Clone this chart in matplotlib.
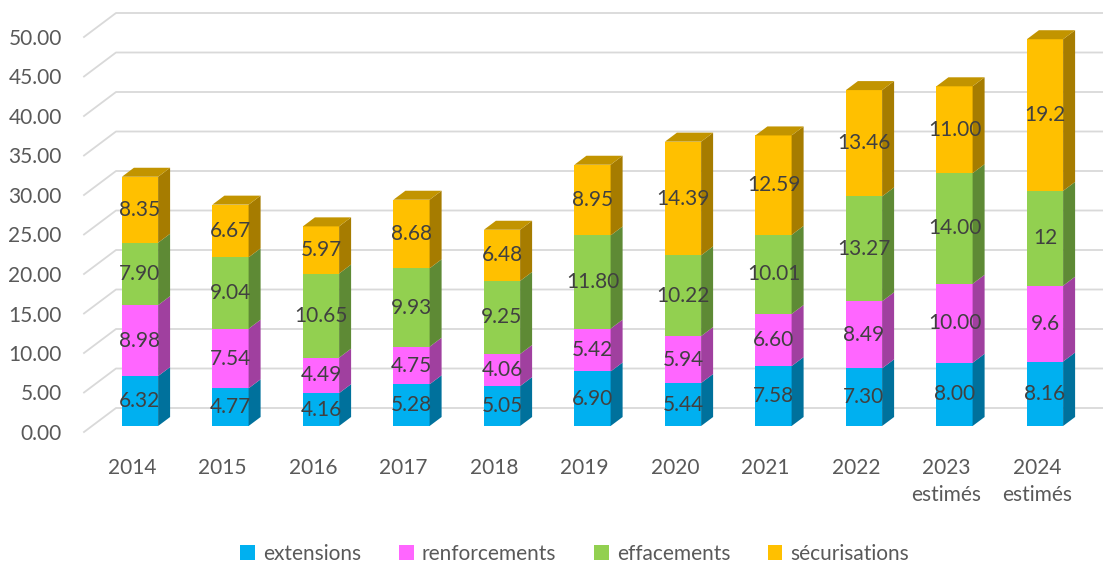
import numpy as np
import matplotlib
matplotlib.use("Agg")
import matplotlib.pyplot as plt
from matplotlib.patches import Polygon, Patch
from matplotlib.transforms import IdentityTransform, ScaledTranslation

years = ["2014", "2015", "2016", "2017", "2018", "2019", "2020", "2021", "2022",
         "2023\nestimés", "2024\nestimés"]
extensions = [6.32, 4.77, 4.16, 5.28, 5.05, 6.90, 5.44, 7.58, 7.30, 8.00, 8.16]
renforcements = [8.98, 7.54, 4.49, 4.75, 4.06, 5.42, 5.94, 6.60, 8.49, 10.00, 9.6]
effacements = [7.90, 9.04, 10.65, 9.93, 9.25, 11.80, 10.22, 10.01, 13.27, 14.00, 12]
securisations = [8.35, 6.67, 5.97, 8.68, 6.48, 8.95, 14.39, 12.59, 13.46, 11.00, 19.2]
label_text = [
    ["6.32", "4.77", "4.16", "5.28", "5.05", "6.90", "5.44", "7.58", "7.30", "8.00", "8.16"],
    ["8.98", "7.54", "4.49", "4.75", "4.06", "5.42", "5.94", "6.60", "8.49", "10.00", "9.6"],
    ["7.90", "9.04", "10.65", "9.93", "9.25", "11.80", "10.22", "10.01", "13.27", "14.00", "12"],
    ["8.35", "6.67", "5.97", "8.68", "6.48", "8.95", "14.39", "12.59", "13.46", "11.00", "19.2"],
]
names = ["extensions", "renforcements", "effacements", "sécurisations"]
yticks = np.arange(0, 51, 5)

front = ["#00B0F0", "#FF66FF", "#92D050", "#FFC000"]
side = ["#00719C", "#A0409F", "#5E8A35", "#A67C00"]
top = ["#0090C4", "#C850C8", "#76A840", "#C29400"]

plt.rcParams['font.family'] = ['Lato', 'DejaVu Sans']
fs = 15

W, H = 1103, 566
fig = plt.figure(figsize=(W / 100, H / 100), dpi=100)
# bar front plane: value 0 at 426px from top, 7.9 px per unit
y0 = 426
ppu = 7.9
ytop = 52
ax = fig.add_axes([84 / W, (H - y0) / H, (W - 84) / W, ytop * ppu / H])
xmin = -(140 - 84) / 90.5
ax.set_xlim(xmin, xmin + (W - 84) / 90.5)
ax.set_ylim(0, ytop)
for s in ax.spines.values():
    s.set_visible(False)

idt = IdentityTransform()
wbar = 0.40
dx, dy = 12, 9


def P(x, y):
    return ax.transData.transform((x, y))


# gridlines: back wall + left side wall
for v in yticks:
    a = P(xmin, v)
    back_y = a[1] + 18
    ax.add_line(plt.Line2D([a[0], a[0] + 32, W], [a[1] - 6, back_y, back_y],
                           transform=idt, color="#D9D9D9", lw=1.3, clip_on=False, zorder=0))

series = [extensions, renforcements, effacements, securisations]
n = len(years)
bottom = np.zeros(n)
for k, vals in enumerate(series):
    vals = np.array(vals, dtype=float)
    ax.bar(np.arange(n), vals, wbar, bottom=bottom, color=front[k], zorder=3, linewidth=0)
    for i in range(n):
        b, t = bottom[i], bottom[i] + vals[i]
        xr = i + wbar / 2
        xl = i - wbar / 2
        pb, pt = P(xr, b), P(xr, t)
        sp = [pb, pb + [dx, dy], pt + [dx, dy], pt]
        ax.add_patch(Polygon(sp, closed=True, transform=idt, facecolor=side[k],
                             edgecolor="none", clip_on=False, zorder=3))
        if k == len(series) - 1:
            pl = P(xl, t)
            tp = [pl, pt, pt + [dx, dy], pl + [dx, dy]]
            ax.add_patch(Polygon(tp, closed=True, transform=idt, facecolor=top[k],
                                 edgecolor="none", clip_on=False, zorder=3))
        ax.text(i, b + vals[i] / 2, label_text[k][i], ha="center", va="center",
                fontsize=fs, color="#404040", zorder=5)
    bottom = bottom + vals

ax.set_yticks(yticks)
ax.set_yticklabels(["%.2f" % v for v in yticks])
ax.set_xticks(np.arange(n))
ax.set_xticklabels(years, linespacing=1.4)
ax.tick_params(axis="y", length=0, pad=16, labelsize=fs, labelcolor="#595959")
ax.tick_params(axis="x", length=0, pad=19, labelsize=fs, labelcolor="#595959")
for lab in ax.get_yticklabels():
    lab.set_transform(lab.get_transform() + ScaledTranslation(0, -0.06, fig.dpi_scale_trans))
for lab in ax.get_xticklabels():
    lab.set_transform(lab.get_transform() + ScaledTranslation(-0.08, -0.06, fig.dpi_scale_trans))

handles = [Patch(facecolor=c, edgecolor="none") for c in front]
fig.legend(handles, names, loc="center", bbox_to_anchor=(575 / W, 12 / H), ncol=4,
           frameon=False, fontsize=fs, labelcolor="#595959", handlelength=0.7,
           handleheight=0.7, handletextpad=0.4, columnspacing=1.8)

fig.savefig("out.png", dpi=100)
